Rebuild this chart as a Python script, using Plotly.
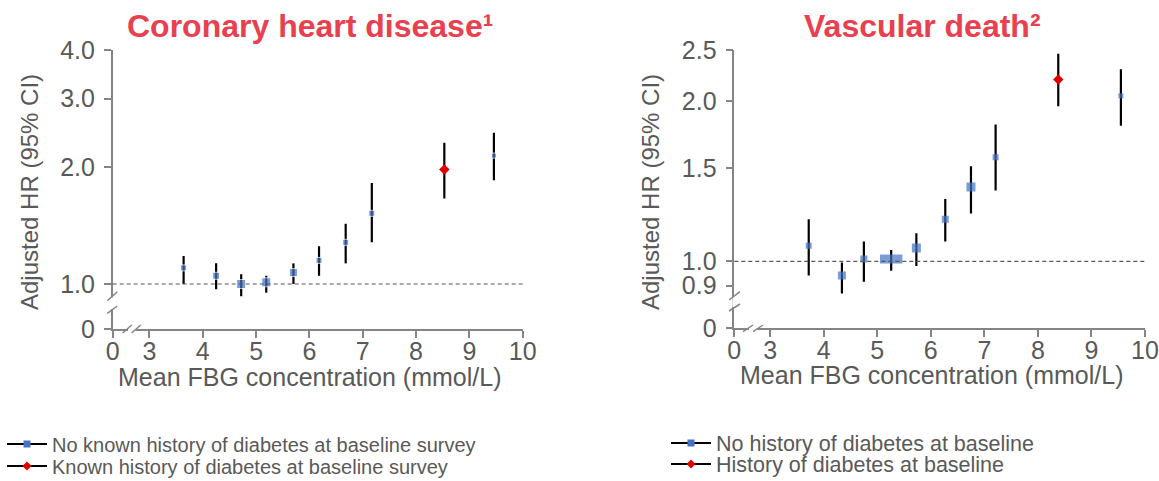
import numpy as np
import plotly.graph_objects as go

W, H = 1159, 481

# ---- data ----
# Coronary heart disease (left)
chd_x_no = [3.64, 4.25, 4.72, 5.19, 5.70, 6.18, 6.68, 7.17, 9.46]
chd_hr_no = [1.10, 1.05, 1.00, 1.01, 1.07, 1.15, 1.28, 1.52, 2.14]
chd_lo_no = [1.00, 0.97, 0.93, 0.95, 1.00, 1.05, 1.13, 1.28, 1.85]
chd_hi_no = [1.18, 1.13, 1.06, 1.05, 1.13, 1.25, 1.43, 1.82, 2.45]
chd_x_dm = [8.53]
chd_hr_dm = [1.97]
chd_lo_dm = [1.66]
chd_hi_dm = [2.31]

# Vascular death (right)
vd_x_no = [3.72, 4.34, 4.75, 5.26, 5.73, 6.27, 6.75, 7.21, 9.55]
vd_hr_no = [1.07, 0.94, 1.01, 1.01, 1.06, 1.20, 1.38, 1.57, 2.05]
vd_lo_no = [0.94, 0.87, 0.915, 0.96, 0.98, 1.09, 1.23, 1.36, 1.80]
vd_hi_no = [1.20, 0.995, 1.09, 1.05, 1.13, 1.31, 1.51, 1.81, 2.30]
vd_x_dm = [8.38]
vd_hr_dm = [2.20]
vd_lo_dm = [1.96]
vd_hi_dm = [2.46]

# axis ticks (broken axes: "0" sits just below / left of the break)
x_ticks = [3, 4, 5, 6, 7, 8, 9, 10]
chd_y_ticks = [1.0, 2.0, 3.0, 4.0]
chd_y_labels = ['1.0', '2.0', '3.0', '4.0']
vd_y_ticks = [0.9, 1.0, 1.5, 2.0, 2.5]
vd_y_labels = ['0.9', '1.0', '1.5', '2.0', '2.5']

# where the "0" labels sit on the broken axes
chd_x_zero, vd_x_zero = 2.31, 2.33
chd_y_zero, vd_y_zero = 0.766, 0.748

legend_left = ['No known history of diabetes at baseline survey',
               'Known history of diabetes at baseline survey']
legend_right = ['No history of diabetes at baseline',
                'History of diabetes at baseline']

# ---- styles ----
BLUE = '#4472C4'
RED = '#E00000'
GREY = '#595959'
AXIS = '#858585'
TITLE_RED = '#E8404F'
FONT = 'Liberation Sans, Arial, sans-serif'

chd_size_no = [6, 7, 9, 9, 8, 6, 6, 6, 5]
vd_size_no = [6, 8, 7, 16, 9, 7, 9, 6, 5]
vd_symbol_no = ['square'] * 3 + ['line-ew'] + ['square'] * 5
vd_lw_no = [0, 0, 0, 9, 0, 0, 0, 0, 0]


def px(x):
    # page pixel -> paper fraction
    return x / W


def py(y):
    return 1 - y / H


def err(hr, lo, hi):
    return dict(type='data', symmetric=False,
                array=[h - v for h, v in zip(hi, hr)],
                arrayminus=[v - l for v, l in zip(hr, lo)],
                color='black', thickness=2.2, width=0)


fig = go.Figure()

fig.add_trace(go.Scatter(
    x=chd_x_no, y=chd_hr_no, mode='markers', showlegend=False,
    marker=dict(symbol='square', size=chd_size_no, color=BLUE),
    error_y=err(chd_hr_no, chd_lo_no, chd_hi_no),
    xaxis='x', yaxis='y',
))
fig.add_trace(go.Scatter(
    x=chd_x_dm, y=chd_hr_dm, mode='markers', showlegend=False,
    marker=dict(symbol='diamond', size=8, color=RED),
    error_y=err(chd_hr_dm, chd_lo_dm, chd_hi_dm),
    xaxis='x', yaxis='y',
))
fig.add_trace(go.Scatter(
    x=vd_x_no, y=vd_hr_no, mode='markers', showlegend=False,
    marker=dict(symbol=vd_symbol_no, size=vd_size_no, color=BLUE,
                line=dict(width=vd_lw_no, color=BLUE)),
    error_y=err(vd_hr_no, vd_lo_no, vd_hi_no),
    xaxis='x2', yaxis='y2',
))
fig.add_trace(go.Scatter(
    x=vd_x_dm, y=vd_hr_dm, mode='markers', showlegend=False,
    marker=dict(symbol='diamond', size=8, color=RED),
    error_y=err(vd_hr_dm, vd_lo_dm, vd_hi_dm),
    xaxis='x2', yaxis='y2',
))

# legend entries (one legend box per row so rows sit where the original has them)
for name, colour, sym, lg in [
    (legend_left[0], BLUE, 'square', 'legend'),
    (legend_left[1], RED, 'diamond', 'legend2'),
    (legend_right[0], BLUE, 'square', 'legend3'),
    (legend_right[1], RED, 'diamond', 'legend4'),
]:
    fig.add_trace(go.Scatter(
        x=[None], y=[None], mode='lines+markers', name=name, legend=lg,
        line=dict(color='black', width=2),
        marker=dict(symbol=sym, size=7, color=colour),
        xaxis='x', yaxis='y',
    ))

axis_common = dict(
    showline=True, linecolor=AXIS, linewidth=1.5,
    ticks='outside', ticklen=7, tickwidth=1.5, tickcolor=AXIS,
    showgrid=False, zeroline=False, fixedrange=True, automargin=False,
    tickfont=dict(family=FONT, size=25, color=GREY),
)

fig.update_layout(
    width=W, height=H,
    margin=dict(l=0, r=0, t=0, b=0, autoexpand=False),
    paper_bgcolor='white', plot_bgcolor='white',
    font=dict(family=FONT, color=GREY),
    xaxis=dict(
        domain=[px(112.7), px(522.7)], anchor='y',
        range=[chd_x_zero, 10],
        tickvals=[chd_x_zero] + x_ticks,
        ticktext=['0'] + [str(v) for v in x_ticks],
        ticklabelstandoff=-8,
        **axis_common,
    ),
    yaxis=dict(
        domain=[py(329), py(50)], anchor='x', type='log',
        range=[np.log10(chd_y_zero), np.log10(4.0)],
        tickvals=[chd_y_zero] + chd_y_ticks,
        ticktext=['0'] + chd_y_labels,
        ticklabelstandoff=4,
        **axis_common,
    ),
    xaxis2=dict(
        domain=[px(734.3), px(1145)], anchor='y2',
        range=[vd_x_zero, 10],
        tickvals=[vd_x_zero] + x_ticks,
        ticktext=['0'] + [str(v) for v in x_ticks],
        ticklabelstandoff=-8,
        **axis_common,
    ),
    yaxis2=dict(
        domain=[py(328.3), py(50)], anchor='x2', type='log',
        range=[np.log10(vd_y_zero), np.log10(2.5)],
        tickvals=[vd_y_zero] + vd_y_ticks,
        ticktext=['0'] + vd_y_labels,
        ticklabelstandoff=4,
        **axis_common,
    ),
)

legend_style = dict(bgcolor='rgba(0,0,0,0)', xanchor='left', yanchor='middle',
                    itemwidth=40)
fig.update_layout(
    legend=dict(x=px(2), y=py(444), font=dict(family=FONT, size=20, color=GREY),
                **legend_style),
    legend2=dict(x=px(2), y=py(466), font=dict(family=FONT, size=20, color=GREY),
                 **legend_style),
    legend3=dict(x=px(666), y=py(443), font=dict(family=FONT, size=21.5, color=GREY),
                 **legend_style),
    legend4=dict(x=px(666), y=py(464), font=dict(family=FONT, size=21.5, color=GREY),
                 **legend_style),
)

# dashed reference line at HR = 1
for yref, zero, top in [('y', chd_y_zero, 4.0), ('y2', vd_y_zero, 2.5)]:
    frac = (0 - np.log10(zero)) / (np.log10(top) - np.log10(zero))
    fig.add_shape(type='line', xref=yref.replace('y', 'x') + ' domain',
                  yref=yref + ' domain', x0=0, x1=1, y0=frac, y1=frac,
                  line=dict(color=GREY, width=1.2, dash='4px,3px'))


# axis break marks
def brk(x0, y0, x1, y1, gap):
    # white gap in axis line, then two slashes
    fig.add_shape(type='line', xref='paper', yref='paper',
                  x0=px(gap[0]), y0=py(gap[1]), x1=px(gap[2]), y1=py(gap[3]),
                  line=dict(color='white', width=4))
    for dx, dy in [(x0, y0), (x1, y1)]:
        fig.add_shape(type='line', xref='paper', yref='paper',
                      x0=px(dx[0]), y0=py(dy[0]), x1=px(dx[1]), y1=py(dy[1]),
                      line=dict(color=AXIS, width=1.5))


# left y / x breaks
brk((107.3, 117.3), (300.7, 291.7), (107.3, 117.3), (313.3, 306),
    (112.7, 297.5, 112.7, 309))
brk((122.7, 131.7), (333, 325), (131.7, 140.7), (333, 325),
    (128, 329, 135.5, 329))
# right y / x breaks
brk((729, 740), (300, 291.7), (729, 740), (311, 304),
    (734.3, 297, 734.3, 307))
brk((743, 753), (331.7, 325), (753, 763), (331.7, 325),
    (749, 328.3, 757, 328.3))

# titles
ann = dict(xref='paper', yref='paper', showarrow=False,
           xanchor='center', yanchor='middle')
fig.add_annotation(x=px(310), y=py(26), text='<b>Coronary heart disease¹</b>',
                   font=dict(family=FONT, size=32, color=TITLE_RED), **ann)
fig.add_annotation(x=px(922), y=py(26), text='<b>Vascular death²</b>',
                   font=dict(family=FONT, size=32, color=TITLE_RED), **ann)

# axis titles
for xc, yc in [(309, 377), (931, 375)]:
    fig.add_annotation(x=px(xc), y=py(yc), text='Mean FBG concentration (mmol/L)',
                       font=dict(family=FONT, size=25, color=GREY), **ann)
for xc, yc in [(29, 192), (650, 192)]:
    fig.add_annotation(x=px(xc), y=py(yc), text='Adjusted HR (95% CI)', textangle=-90,
                       font=dict(family=FONT, size=24, color=GREY), **ann)

# the page's default body margin would push the figure off the 1159x481 window
fig.write_html("out.html",
               config={'displayModeBar': False},
               post_script="document.body.style.margin='0';"
                           "document.body.style.overflow='hidden';")
